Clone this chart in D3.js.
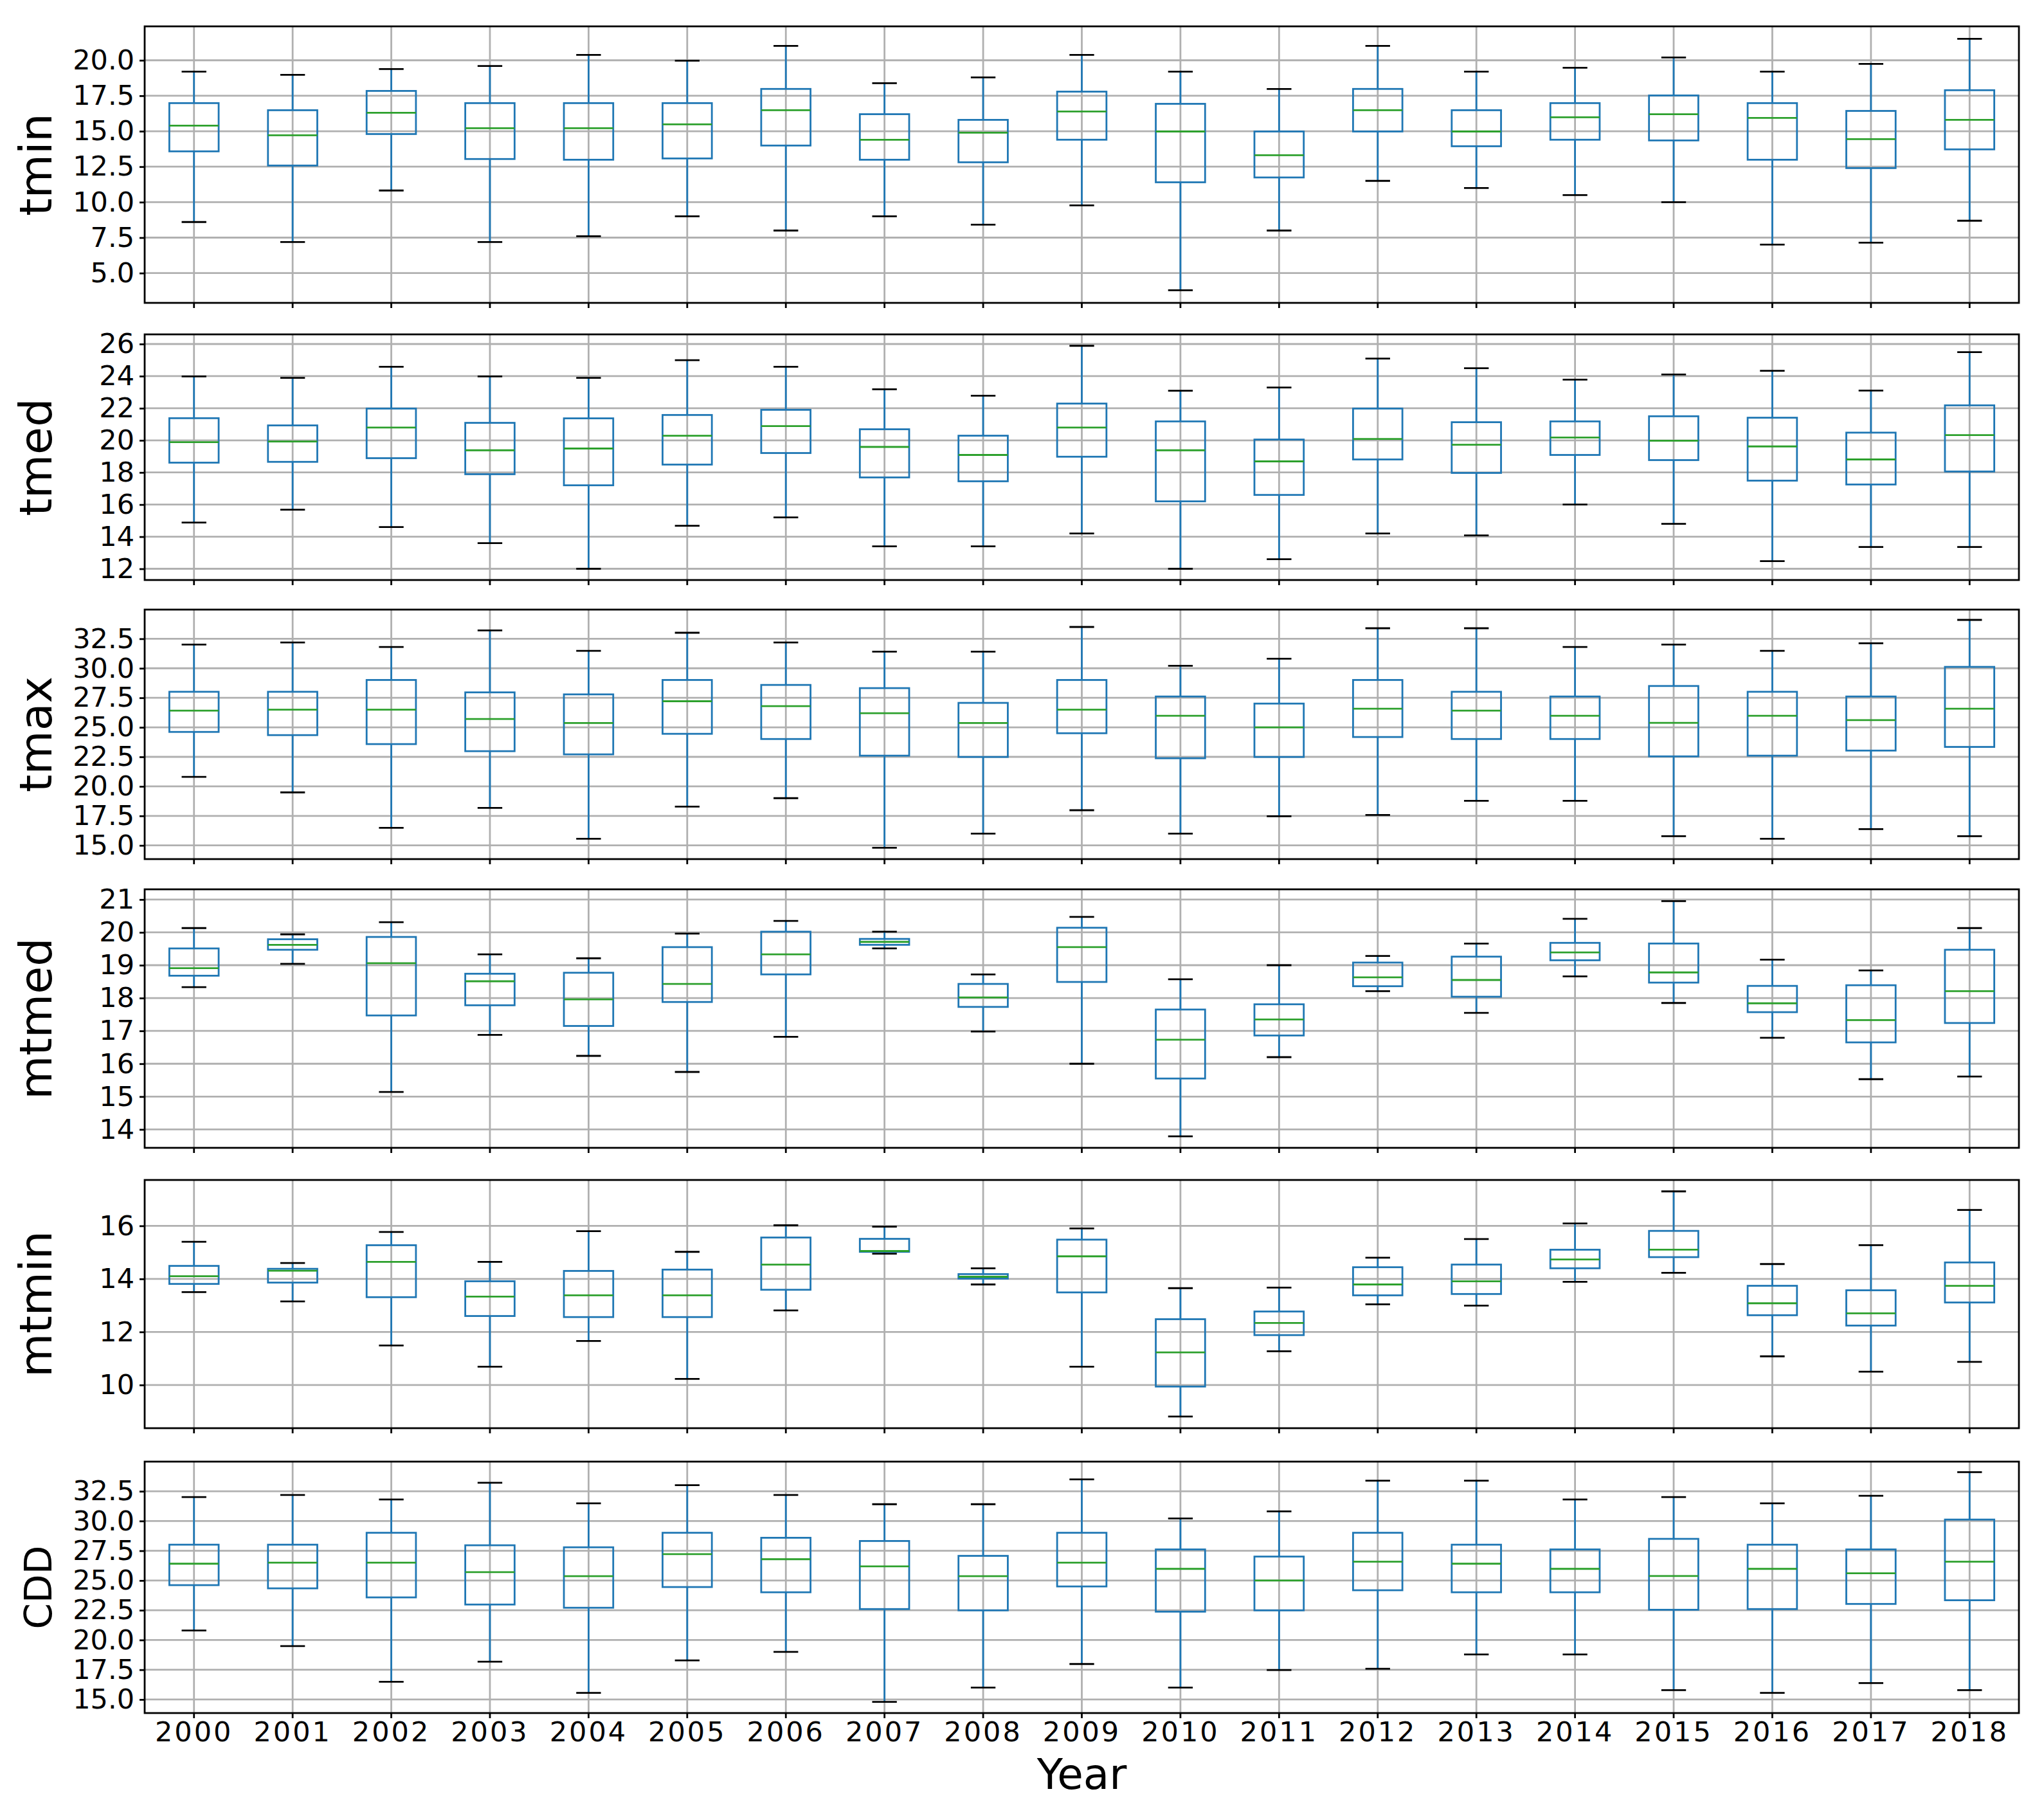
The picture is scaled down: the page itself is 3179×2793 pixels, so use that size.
<!DOCTYPE html>
<html><head><meta charset="utf-8">
<script src="https://cdn.jsdelivr.net/npm/d3@7"></script>
<style>body{margin:0;background:#fff}svg{display:block}</style>
</head><body>
<script>
const years = ["2000","2001","2002","2003","2004","2005","2006","2007","2008","2009","2010","2011","2012","2013","2014","2015","2016","2017","2018"];
// each row: [whiskerLow, Q1, median, Q3, whiskerHigh]
const tmin = [[8.6,13.58,15.39,16.98,19.2],[7.19,12.58,14.71,16.48,18.97],[10.82,14.8,16.3,17.84,19.38],[7.19,13.04,15.21,16.98,19.6],[7.6,12.99,15.21,16.98,20.38],[9.0,13.08,15.48,16.98,19.97],[8.0,13.99,16.48,17.98,21.01],[9.0,12.99,14.4,16.2,18.38],[8.41,12.81,14.89,15.8,18.79],[9.77,14.4,16.39,17.79,20.38],[3.79,11.4,14.98,16.93,19.2],[8.0,11.74,13.31,14.98,17.98],[11.5,14.98,16.48,17.98,21.01],[11.0,13.94,14.98,16.48,19.2],[10.5,14.4,15.98,16.98,19.47],[10.0,14.35,16.2,17.52,20.2],[7.01,12.99,15.94,16.98,19.2],[7.14,12.4,14.44,16.43,19.74],[8.69,13.72,15.8,17.89,21.51]];
const tmed = [[14.88,18.61,19.89,21.38,23.98],[15.68,18.66,19.93,20.93,23.89],[14.6,18.89,20.8,21.98,24.58],[13.6,17.89,19.38,21.09,23.98],[12.0,17.2,19.49,21.37,23.89],[14.68,18.49,20.29,21.58,24.99],[15.2,19.21,20.89,21.9,24.58],[13.4,17.69,19.59,20.69,23.18],[13.4,17.45,19.09,20.29,22.78],[14.2,18.98,20.8,22.29,25.89],[12.0,16.2,19.38,21.18,23.09],[12.6,16.6,18.69,20.05,23.29],[14.2,18.81,20.09,21.98,25.09],[14.08,17.97,19.73,21.13,24.49],[16.0,19.09,20.18,21.18,23.78],[14.8,18.77,19.98,21.5,24.1],[12.48,17.49,19.62,21.41,24.33],[13.36,17.25,18.81,20.48,23.1],[13.36,18.06,20.33,22.18,25.49]];
const tmax = [[20.8,24.61,26.41,28.01,32.01],[19.49,24.34,26.5,28.01,32.19],[16.49,23.58,26.5,29.01,31.81],[18.18,22.98,25.7,27.96,33.21],[15.56,22.71,25.36,27.79,31.48],[18.29,24.45,27.21,29.01,33.01],[19.0,24.01,26.79,28.59,32.19],[14.8,22.6,26.19,28.32,31.41],[16.0,22.49,25.36,27.07,31.41],[17.98,24.5,26.5,29.01,33.5],[16.0,22.38,25.98,27.61,30.21],[17.47,22.49,25.0,27.01,30.81],[17.58,24.18,26.58,29.01,33.39],[18.78,24.01,26.41,28.01,33.39],[18.78,24.01,25.98,27.61,31.81],[15.78,22.54,25.38,28.5,32.01],[15.56,22.6,25.98,28.01,31.48],[16.38,23.03,25.61,27.61,32.12],[15.78,23.34,26.58,30.12,34.1]];
const mtmed = [[18.33,18.68,18.91,19.51,20.13],[19.04,19.47,19.62,19.79,19.94],[15.14,17.47,19.06,19.86,20.31],[16.88,17.78,18.51,18.74,19.33],[16.24,17.15,17.96,18.77,19.21],[15.75,17.88,18.43,19.55,19.96],[16.82,18.72,19.33,20.02,20.35],[19.51,19.62,19.71,19.8,20.02],[16.98,17.73,18.02,18.43,18.72],[16.0,18.49,19.55,20.14,20.47],[13.79,15.55,16.73,17.65,18.57],[16.2,16.86,17.35,17.81,19.0],[18.21,18.36,18.63,19.08,19.28],[17.55,18.04,18.55,19.26,19.66],[18.66,19.15,19.39,19.68,20.41],[17.85,18.47,18.78,19.66,20.95],[16.79,17.57,17.84,18.37,19.17],[15.53,16.65,17.33,18.39,18.84],[15.61,17.24,18.21,19.47,20.13]];
const mtmin = [[13.5,13.81,14.1,14.49,15.4],[13.15,13.86,14.31,14.38,14.6],[11.49,13.31,14.64,15.27,15.77],[10.69,12.6,13.33,13.91,14.64],[11.66,12.56,13.38,14.3,15.8],[10.23,12.56,13.38,14.35,15.02],[12.81,13.59,14.54,15.56,16.02],[14.95,15.02,15.05,15.51,15.97],[13.79,14.01,14.08,14.18,14.4],[10.69,13.49,14.85,15.48,15.9],[8.81,9.94,11.23,12.48,13.65],[11.27,11.88,12.34,12.77,13.67],[13.04,13.38,13.79,14.44,14.8],[12.99,13.43,13.91,14.54,15.5],[13.89,14.4,14.73,15.1,16.09],[14.23,14.82,15.1,15.81,17.3],[11.08,12.63,13.08,13.74,14.56],[10.5,12.24,12.7,13.57,15.27],[10.87,13.11,13.74,14.62,16.6]];
const cdd = [[20.8,24.61,26.41,28.01,32.01],[19.49,24.34,26.5,28.01,32.19],[16.49,23.58,26.5,29.01,31.81],[18.18,22.98,25.7,27.96,33.21],[15.56,22.71,25.36,27.79,31.48],[18.29,24.45,27.21,29.01,33.01],[19.0,24.01,26.79,28.59,32.19],[14.8,22.6,26.19,28.32,31.41],[16.0,22.49,25.36,27.07,31.41],[17.98,24.5,26.5,29.01,33.5],[16.0,22.38,25.98,27.61,30.21],[17.47,22.49,25.0,27.01,30.81],[17.58,24.18,26.58,29.01,33.39],[18.78,24.01,26.41,28.01,33.39],[18.78,24.01,25.98,27.61,31.81],[15.78,22.54,25.38,28.5,32.01],[15.56,22.6,25.98,28.01,31.48],[16.38,23.03,25.61,27.61,32.12],[15.78,23.34,26.58,30.12,34.1]];

const tminTicks = [5,7.5,10,12.5,15,17.5,20];
const tmedTicks = [12,14,16,18,20,22,24,26];
const tmaxTicks = [15,17.5,20,22.5,25,27.5,30,32.5];
const mtmedTicks = [14,15,16,17,18,19,20,21];
const mtminTicks = [10,12,14,16];
const cddTicks = [15,17.5,20,22.5,25,27.5,30,32.5];

const panels = [
  {name:"tmin", data:tmin, ticks:tminTicks, dom:[2.9,22.39], top:41, bot:471, fmt:".1f", ls:70},
  {name:"tmed", data:tmed, ticks:tmedTicks, dom:[11.3,26.6], top:520, bot:902, fmt:"d", ls:70},
  {name:"tmax", data:tmax, ticks:tmaxTicks, dom:[13.84,34.97], top:948, bot:1336, fmt:".1f", ls:70},
  {name:"mtmed", data:mtmed, ticks:mtmedTicks, dom:[13.44,21.31], top:1383, bot:1785, fmt:"d", ls:70},
  {name:"mtmin", data:mtmin, ticks:mtminTicks, dom:[8.37,17.73], top:1835, bot:2221, fmt:"d", ls:70},
  {name:"CDD", data:cdd, ticks:cddTicks, dom:[13.86,34.99], top:2273, bot:2664, fmt:".1f", ls:58}
];

const W=3179,H=2793, L=225, R=3140, lw=2.8;
const svg = d3.select("body").append("svg").attr("width",W).attr("height",H)
  .style("font-family","'DejaVu Sans'");
const x = d3.scaleBand().domain(years).range([L,R]).paddingInner(0).paddingOuter(0);
const bw = x.bandwidth()*0.5, cw = x.bandwidth()*0.25;

panels.forEach((p,pi)=>{
  const y = d3.scaleLinear().domain(p.dom).range([p.bot,p.top]);
  const g = svg.append("g");
  g.selectAll(".gy").data(p.ticks).enter().append("line")
    .attr("x1",L).attr("x2",R).attr("y1",d=>y(d)).attr("y2",d=>y(d))
    .attr("stroke","#b0b0b0").attr("stroke-width",lw);
  g.selectAll(".gx").data(years).enter().append("line")
    .attr("x1",d=>x(d)+x.bandwidth()/2).attr("x2",d=>x(d)+x.bandwidth()/2)
    .attr("y1",p.top).attr("y2",p.bot).attr("stroke","#b0b0b0").attr("stroke-width",lw);
  const bx = g.selectAll(".b").data(p.data.map((v,i)=>({v,yr:years[i]}))).enter().append("g");
  const cx = d=>x(d.yr)+x.bandwidth()/2;
  bx.append("line").attr("x1",cx).attr("x2",cx)
    .attr("y1",d=>y(d.v[0])).attr("y2",d=>y(d.v[1])).attr("stroke","#1f77b4").attr("stroke-width",lw);
  bx.append("line").attr("x1",cx).attr("x2",cx)
    .attr("y1",d=>y(d.v[3])).attr("y2",d=>y(d.v[4])).attr("stroke","#1f77b4").attr("stroke-width",lw);
  bx.append("line").attr("x1",d=>cx(d)-cw/2).attr("x2",d=>cx(d)+cw/2)
    .attr("y1",d=>y(d.v[0])).attr("y2",d=>y(d.v[0])).attr("stroke","#000").attr("stroke-width",lw);
  bx.append("line").attr("x1",d=>cx(d)-cw/2).attr("x2",d=>cx(d)+cw/2)
    .attr("y1",d=>y(d.v[4])).attr("y2",d=>y(d.v[4])).attr("stroke","#000").attr("stroke-width",lw);
  bx.append("rect").attr("x",d=>cx(d)-bw/2).attr("width",bw)
    .attr("y",d=>y(d.v[3])).attr("height",d=>y(d.v[1])-y(d.v[3]))
    .attr("fill","none").attr("stroke","#1f77b4").attr("stroke-width",lw);
  bx.append("line").attr("x1",d=>cx(d)-bw/2).attr("x2",d=>cx(d)+bw/2)
    .attr("y1",d=>y(d.v[2])).attr("y2",d=>y(d.v[2])).attr("stroke","#2ca02c").attr("stroke-width",lw);
  const ya = g.append("g").attr("transform",`translate(${L},0)`)
    .call(d3.axisLeft(y).tickValues(p.ticks).tickFormat(d3.format(p.fmt)).tickSize(8).tickPadding(8));
  const xa = g.append("g").attr("transform",`translate(0,${p.bot})`)
    .call(d3.axisBottom(x).tickSize(8).tickPadding(5).tickFormat(pi===5?(d=>d):(()=>"")));
  [ya,xa].forEach(a=>{
    a.select(".domain").remove();
    a.selectAll("line").attr("stroke","#000").attr("stroke-width",lw);
    a.selectAll("text").attr("font-size",43).attr("fill","#000").attr("font-family","'DejaVu Sans'");
  });
  xa.selectAll("text").attr("letter-spacing",3);
  g.append("rect").attr("x",L).attr("y",p.top).attr("width",R-L).attr("height",p.bot-p.top)
    .attr("fill","none").attr("stroke","#000").attr("stroke-width",lw);
  g.append("text").attr("transform",`translate(${80},${(p.top+p.bot)/2}) rotate(-90)`)
    .attr("text-anchor","middle").attr("font-size",p.ls).text(p.name);
});
svg.append("text").attr("x",(L+R)/2).attr("y",2782).attr("text-anchor","middle")
  .attr("font-size",66).text("Year");
</script>
</body></html>
